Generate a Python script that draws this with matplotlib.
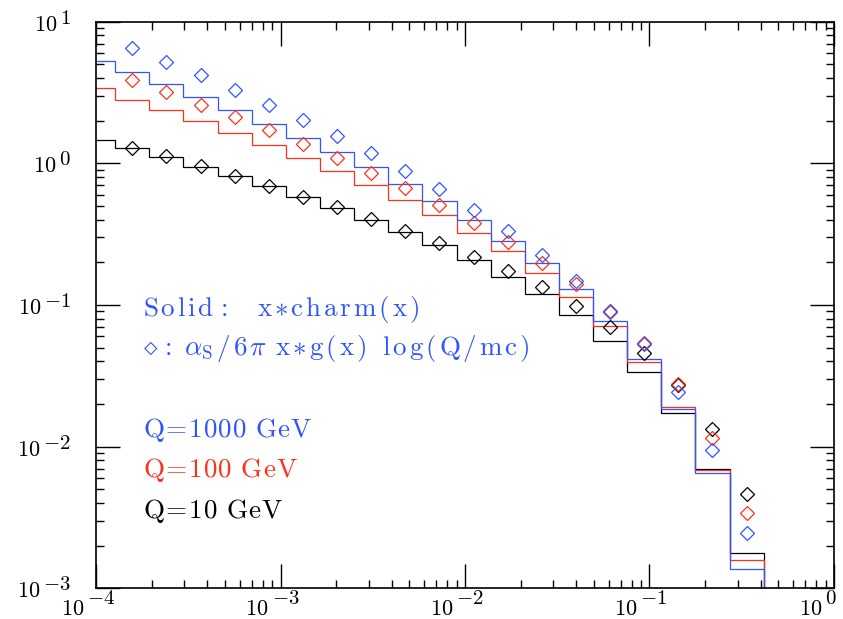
import numpy as np
import matplotlib
matplotlib.use("Agg")
import matplotlib.pyplot as plt
from matplotlib.ticker import LogLocator, NullFormatter

plt.rcParams['mathtext.fontset'] = 'cm'

# bin edges in x (log spaced)
edges = [8.30e-5, 1.271e-4, 1.945e-4, 2.979e-4, 4.560e-4, 6.982e-4,
         1.069e-3, 1.637e-3, 2.506e-3, 3.837e-3, 5.875e-3, 8.995e-3,
         1.377e-2, 2.109e-2, 3.228e-2, 4.943e-2, 7.568e-2, 0.1159,
         0.1774, 0.2716, 0.4159]

# solid histograms: x*charm(x)
charm_1000 = [5.29, 4.38, 3.62, 2.95, 2.37, 1.91, 1.52, 1.205, 0.940, 0.713,
              0.541, 0.400, 0.284, 0.1966, 0.1288, 0.0770, 0.0413, 0.0185,
              0.00648, 0.00137]
charm_100 = [3.38, 2.82, 2.37, 1.985, 1.642, 1.338, 1.093, 0.881, 0.705, 0.550,
             0.429, 0.324, 0.240, 0.1688, 0.1143, 0.0713, 0.0395, 0.0189,
             0.00680, 0.001584]
charm_10 = [1.458, 1.274, 1.100, 0.945, 0.808, 0.687, 0.575, 0.480, 0.397,
            0.328, 0.2634, 0.2088, 0.1581, 0.1188, 0.0849, 0.0556, 0.0336,
            0.01718, 0.0069, 0.001766]

# diamonds: alpha_s/6pi x*g(x) log(Q/mc), bins 2..20
glu_1000 = [6.47, 5.20, 4.17, 3.29, 2.575, 2.018, 1.556, 1.175, 0.885, 0.654,
            0.470, 0.332, 0.225, 0.1482, 0.0906, 0.0527, 0.0244, 0.00946,
            0.00247]
glu_100 = [3.85, 3.18, 2.60, 2.12, 1.715, 1.373, 1.093, 0.857, 0.665, 0.507,
           0.380, 0.279, 0.1985, 0.1398, 0.0887, 0.0536, 0.0277, 0.01156,
           0.00338]
glu_10 = [1.280, 1.124, 0.960, 0.812, 0.690, 0.580, 0.493, 0.402, 0.334,
          0.272, 0.219, 0.1743, 0.1331, 0.0982, 0.0702, 0.0460, 0.0272,
          0.01337, 0.00461]

x_decades = [-4, -3, -2, -1, 0]
y_decades = [-3, -2, -1, 0, 1]

blue = '#2f55ff'
red = '#ff3018'
black = '#000000'


def spaced(s, gap=0.12):
    # mimic the wide letter spacing of the original plot
    out = []
    for ch in s:
        if ch == ' ':
            out.append(r'\ ')
        elif ch == '*':
            out.append(r'{\ast}')
        elif ch == '=':
            out.append(r'\!=\!')
        elif ch == ':':
            out.append(r'{:}')
        else:
            out.append(r'\mathrm{%s}' % ch)
    return (r'\hspace{%g}' % gap).join(out)


fig = plt.figure(figsize=(8.43, 6.19), dpi=100)
ax = fig.add_axes([0.1139, 0.0496, 0.8754, 0.9154])

e = np.array(edges)
centers = np.sqrt(e[1:] * e[:-1])[1:]

for vals, gvals, col in [(charm_10, glu_10, black),
                         (charm_100, glu_100, red),
                         (charm_1000, glu_1000, blue)]:
    ax.stairs(vals, edges, baseline=1e-4, color=col, lw=0.9)
    ax.plot(centers, gvals, ls='none', marker='D', ms=7.3, mfc='none',
            mec=col, mew=0.9)

ax.set_xscale('log')
ax.set_yscale('log')
ax.set_xlim(1e-4, 1)
ax.set_ylim(1e-3, 10)

ax.xaxis.set_major_locator(LogLocator(base=10, numticks=10))
ax.yaxis.set_major_locator(LogLocator(base=10, numticks=10))
ax.xaxis.set_major_formatter(NullFormatter())
ax.yaxis.set_major_formatter(NullFormatter())
ax.tick_params(which='both', direction='in', top=True, right=True, width=1.0)
ax.tick_params(which='major', length=17)
ax.tick_params(which='minor', length=6)
for s in ax.spines.values():
    s.set_linewidth(1.2)

# tick labels drawn as "10" plus a big exponent, like the original
for k in x_decades:
    ten = ax.annotate(r'$10$', xy=(10.0 ** k, 0), xycoords=ax.get_xaxis_transform(),
                      xytext=(-12, -21), textcoords='offset pixels',
                      ha='right', va='center', fontsize=16, annotation_clip=False)
    ax.annotate(r'$%d$' % k, xy=(1, 0.5), xycoords=ten, xytext=(3, 11),
                textcoords='offset pixels', ha='left', va='center',
                fontsize=15, annotation_clip=False)

for k in y_decades:
    ex = ax.annotate(r'$%d$' % k, xy=(0, 10.0 ** k), xycoords=ax.get_yaxis_transform(),
                     xytext=(-25, 4), textcoords='offset pixels',
                     ha='right', va='center', fontsize=15, annotation_clip=False)
    ax.annotate(r'$10$', xy=(0, 0.5), xycoords=ex, xytext=(-3, -7),
                textcoords='offset pixels', ha='right', va='center',
                fontsize=16, annotation_clip=False)

tx = 0.063
fs = 19.5
g = r'\hspace{0.12}'
ax.text(tx, 0.4806, '$' + spaced('Solid:  x*charm(x)') + '$',
        transform=ax.transAxes, color=blue, fontsize=fs)
line2 = ('$' + r'\diamond' + g + r'{:}\ \alpha_\mathrm{S}' + g + spaced('/6')
         + g + r'\pi\ ' + g + spaced('x*g(x)') + r'\ \ '
         + spaced('log(Q/mc)') + '$')
ax.text(tx, 0.4117, line2, transform=ax.transAxes, color=blue, fontsize=fs)
ax.text(tx, 0.2665, '$' + spaced('Q=1000 GeV', 0.04) + '$', transform=ax.transAxes,
        color=blue, fontsize=fs)
ax.text(tx, 0.197, '$' + spaced('Q=100 GeV', 0.04) + '$', transform=ax.transAxes,
        color=red, fontsize=fs)
ax.text(tx, 0.1235, '$' + spaced('Q=10 GeV', 0.04) + '$', transform=ax.transAxes,
        color=black, fontsize=fs)

fig.savefig('out.png', dpi=100)
